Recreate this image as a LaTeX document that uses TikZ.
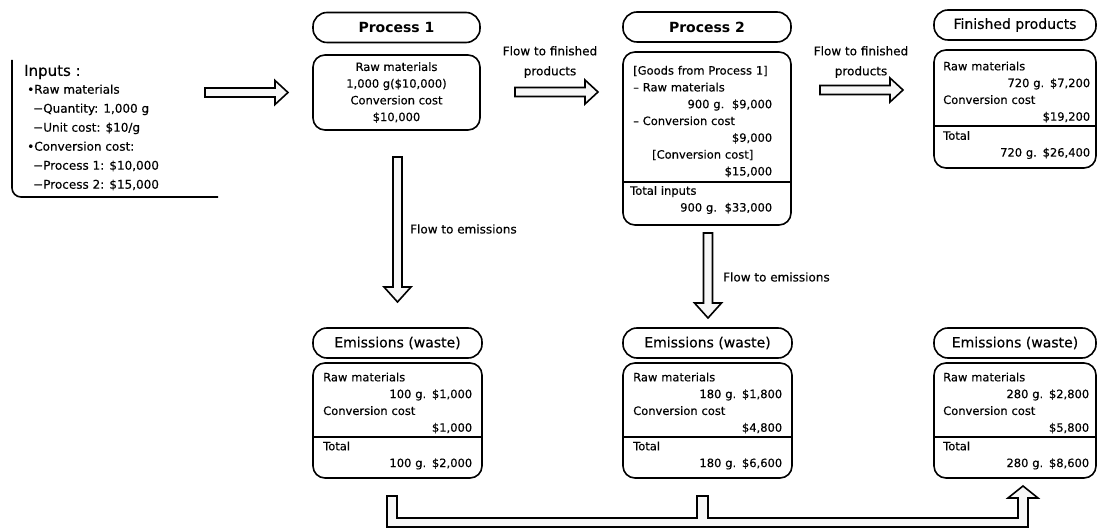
\documentclass[tikz,border=0pt]{standalone}
\usepackage{fontspec}
\setmainfont{DejaVu Sans}[FakeBold=0.4]
\newfontfamily\pillbold{DejaVu Sans Bold}
\usetikzlibrary{calc}
\begin{document}
\begin{tikzpicture}[x=1pt,y=-1pt,
  lw/.style={line width=1.6pt},
  pill/.style={draw,lw,fill=white,rounded corners=14pt,minimum height=30pt,inner sep=0pt,font=\fontsize{14}{16}\selectfont},
  box/.style={draw,lw,rounded corners=12pt,inner sep=0pt},
  body/.style={font=\fontsize{11.5}{16.8}\selectfont,inner sep=0pt,align=left},
  bodyc/.style={font=\fontsize{11.5}{16.7}\selectfont,inner sep=0pt,align=center},
  lbl/.style={font=\fontsize{12}{20}\selectfont,inner sep=0pt,align=center},
  arr/.style={draw,lw,fill=gray!6,line join=miter},
  sep/.style={lw}
 ]
\useasboundingbox (0,0) rectangle (1099,529);
\newcommand\rarr[3]{\draw[arr] (#1,#3-4.5) -- (#2-13,#3-4.5) -- (#2-13,#3-12) -- (#2,#3) -- (#2-13,#3+12) -- (#2-13,#3+4.5) -- (#1,#3+4.5) -- cycle;}
\newcommand\darr[3]{\draw[arr] (#1-4.5,#2) -- (#1-4.5,#3-15) -- (#1-13.5,#3-15) -- (#1,#3) -- (#1+13.5,#3-15) -- (#1+4.5,#3-15) -- (#1+4.5,#2) -- cycle;}
\newcommand\R{\mbox{}\hfill}

% ---------- Inputs ----------
\draw[lw,rounded corners=9pt] (12,60) |- (218,197);
\node[anchor=west,inner sep=0pt,font=\fontsize{15}{18}\selectfont] (intitle) at (24,72) {Inputs :};
\node[anchor=west,inner sep=0pt,align=left,font=\fontsize{12}{19}\selectfont] (inlist) at (27,137.5)
 {•Raw materials\\
  \hspace*{6pt}−Quantity: 1,000 g\\
  \hspace*{6pt}−Unit cost: \$10/g\\
  •Conversion cost:\\
  \hspace*{6pt}−Process 1: \$10,000\\
  \hspace*{6pt}−Process 2: \$15,000};

% ---------- Process 1 ----------
\node[pill,minimum width=167pt,font=\fontsize{14}{16}\pillbold] (p1h) at (396.5,27.5) {Process 1};
\node[box,minimum width=167pt,minimum height=75pt] (p1) at (396.5,92.5) {};
\node[bodyc] (p1t) at (p1.center) {Raw materials\\1,000 g(\$10,000)\\Conversion cost\\\$10,000};

% ---------- Process 2 ----------
\node[pill,minimum width=168pt,font=\fontsize{14}{16}\pillbold] (p2h) at (707,27) {Process 2};
\node[box,minimum width=168pt,minimum height=173pt] (p2) at (707,138.5) {};
\draw[sep] (p2.west |- 0,182) -- (p2.east |- 0,182);
\node[body,text width=139pt,anchor=west] (p2a) at (633,121.5)
 {[Goods from Process 1]\\
  – Raw materials\\
  \R 900 g.\ \ \$9,000\\
  – Conversion cost\\
  \R \$9,000\\
  \R [Conversion cost]\hfill\mbox{}\\
  \R \$15,000};
\node[body,text width=142pt,anchor=west] (p2b) at (630,200)
 {Total inputs\\ \R 900 g.\ \ \$33,000};

% ---------- Finished products ----------
\node[pill,minimum width=162pt] (fph) at (1015,25) {Finished products};
\node[box,minimum width=162pt,minimum height=118pt] (fp) at (1015,109) {};
\draw[sep] (fp.west |- 0,126) -- (fp.east |- 0,126);
\node[body,text width=147pt,anchor=west] (fpa) at (943,92)
 {Raw materials\\ \R 720 g. \$7,200\\ Conversion cost\\ \R \$19,200};
\node[body,text width=147pt,anchor=west] (fpb) at (943,145)
 {Total\\ \R 720 g. \$26,400};

% ---------- Emissions ----------
\node[pill,minimum width=169pt] (e1h) at (397.5,343) {Emissions (waste)};
\node[box,minimum width=169pt,minimum height=115pt] (e1) at (397.5,420.5) {};
\draw[sep] (e1.west |- 0,437) -- (e1.east |- 0,437);
\node[body,text width=149pt,anchor=west] (e1a) at (323,403)
 {Raw materials\\ \R 100 g. \$1,000\\ Conversion cost\\ \R \$1,000};
\node[body,text width=149pt,anchor=west] (e1b) at (323,455.5)
 {Total\\ \R 100 g. \$2,000};

\node[pill,minimum width=169pt] (e2h) at (707.5,343) {Emissions (waste)};
\node[box,minimum width=169pt,minimum height=115pt] (e2) at (707.5,420.5) {};
\draw[sep] (e2.west |- 0,437) -- (e2.east |- 0,437);
\node[body,text width=149pt,anchor=west] (e2a) at (633,403)
 {Raw materials\\ \R 180 g. \$1,800\\ Conversion cost\\ \R \$4,800};
\node[body,text width=149pt,anchor=west] (e2b) at (633,455.5)
 {Total\\ \R 180 g. \$6,600};

\node[pill,minimum width=162pt] (e3h) at (1015,343) {Emissions (waste)};
\node[box,minimum width=162pt,minimum height=115pt] (e3) at (1015,420.5) {};
\draw[sep] (e3.west |- 0,437) -- (e3.east |- 0,437);
\node[body,text width=146pt,anchor=west] (e3a) at (943,403)
 {Raw materials\\ \R 280 g. \$2,800\\ Conversion cost\\ \R \$5,800};
\node[body,text width=146pt,anchor=west] (e3b) at (943,455.5)
 {Total\\ \R 280 g. \$8,600};

% ---------- Flow arrows ----------
\rarr{205}{288}{92.5}
\rarr{515}{598}{92}
\node[lbl] (f1) at (550,62) {Flow to finished\\products};
\rarr{820}{903}{90}
\node[lbl] (f2) at (861,62) {Flow to finished\\products};

\darr{397.5}{157}{302}
\node[lbl,anchor=west] (d1) at (410,229) {Flow to emissions};
\darr{708}{233}{318}
\node[lbl,anchor=west] (d2) at (723,277) {Flow to emissions};

% ---------- Merge to total emissions ----------
\draw[arr] (387,496) -- (397,496) -- (397,518) -- (697,518) -- (697,496) -- (708,496)
  -- (708,518) -- (1018,518) -- (1018,498) -- (1008,498) -- (1023,486) -- (1038,498)
  -- (1028,498) -- (1028,527) -- (387,527) -- cycle;
\end{tikzpicture}
\end{document}
